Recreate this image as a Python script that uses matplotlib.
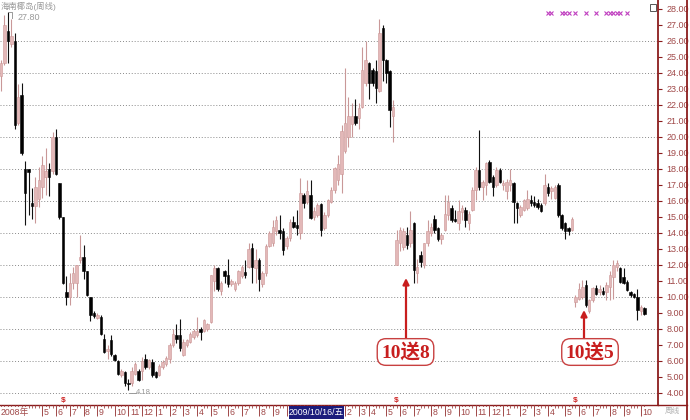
import numpy as np
import matplotlib
matplotlib.use("Agg")
import matplotlib.pyplot as plt
from matplotlib.lines import Line2D
from matplotlib.patches import Rectangle

plt.rcParams['font.family'] = ['Liberation Sans', 'Noto Sans CJK SC', 'DejaVu Sans']

# ---------------- data (weekly OHLC) ----------------
opens = [23.8, 24.6, 26.6, 25.8, 26.0, 20.85, 22.6, 18.0, 18.0, 15.9,
         15.7, 16.1, 16.9, 17.5, 18.0, 17.9, 20.0, 17.1, 15.0, 10.3,
         10.0, 10.9, 10.85, 12.3, 12.5, 11.6, 10.0, 9.0, 8.7, 8.75,
         7.4, 6.6, 7.3, 6.35, 6.0, 5.1, 5.3, 4.6, 4.6, 5.2,
         5.4, 5.4, 6.1, 5.6, 5.95, 5.3, 5.1, 5.6, 5.8, 6.1,
         7.0, 7.65, 7.6, 6.4, 7.0, 7.2, 7.5, 7.6, 8.0, 7.9,
         8.0, 8.45, 11.0, 11.8, 10.4, 11.6, 11.4, 10.8, 10.5, 10.9,
         11.3, 11.55, 11.9, 13.05, 11.8, 12.3, 10.8, 11.5, 13.2, 13.4,
         14.1, 14.2, 14.1, 13.2, 13.7, 14.7, 14.5, 14.0, 16.4, 15.95,
         16.4, 15.0, 15.1, 15.8, 14.3, 15.1, 15.95, 16.7, 17.3, 17.7,
         19.1, 20.0, 20.8, 21.3, 21.2, 21.9, 23.4, 24.6, 24.2, 24.1,
         22.9, 26.8, 24.8, 24.1, 21.3, 12.0, 13.35, 13.1, 13.9, 13.35,
         14.6, 11.5, 12.6, 12.0, 13.35, 14.0, 14.9, 14.3, 13.6, 14.2,
         15.1, 15.55, 14.85, 14.6, 15.3, 15.45, 14.6, 15.45, 16.7, 17.95,
         16.9, 17.0, 18.45, 17.5, 17.0, 17.95, 17.0, 16.6, 17.0, 17.1,
         15.85, 15.1, 15.45, 15.55, 16.05, 15.95, 15.85, 15.75, 15.85, 16.9,
         16.6, 16.2, 17.0, 15.1, 14.6, 14.3, 14.2, 9.7, 9.9, 10.0,
         10.75, 9.1, 9.8, 10.55, 10.3, 10.4, 10.3, 10.65, 11.25, 11.9,
         11.8, 11.25, 10.95, 10.3, 10.2, 10.0, 9.1, 9.3]
highs = [24.8, 27.6, 27.8, 27.4, 26.5, 23.3, 23.4, 18.5, 18.0, 16.8,
         17.5, 18.1, 18.8, 19.3, 18.35, 20.3, 20.5, 17.1, 15.0, 11.3,
         11.5, 11.9, 12.0, 13.9, 13.25, 11.6, 10.0, 9.1, 9.0, 8.85,
         7.7, 7.0, 7.6, 6.45, 6.05, 5.5, 5.35, 4.85, 5.6, 5.95,
         5.5, 6.25, 6.45, 6.15, 6.1, 5.35, 5.8, 6.05, 6.3, 7.1,
         8.0, 8.3, 8.65, 7.4, 7.4, 7.8, 8.0, 8.75, 8.1, 8.6,
         8.4, 11.4, 12.0, 11.9, 11.0, 11.7, 12.4, 11.1, 11.0, 11.7,
         12.0, 12.3, 13.4, 13.4, 13.0, 12.45, 11.6, 13.3, 14.1, 14.8,
         15.05, 15.15, 14.3, 13.8, 14.85, 15.05, 15.45, 17.45, 16.5, 17.3,
         17.3, 15.6, 15.85, 15.9, 15.3, 16.1, 16.9, 18.15, 18.9, 20.75,
         24.3, 22.5, 22.1, 22.4, 22.1, 25.6, 26.0, 24.7, 24.3, 24.8,
         27.4, 27.0, 24.9, 24.2, 22.3, 14.2, 14.4, 14.3, 14.4, 15.35,
         14.7, 12.4, 12.85, 13.4, 14.8, 14.6, 15.1, 14.4, 14.0, 16.4,
         16.4, 15.75, 15.45, 16.05, 15.75, 15.6, 15.4, 16.9, 18.15, 20.45,
         17.3, 18.45, 18.55, 17.6, 18.15, 18.05, 17.3, 17.4, 18.0, 17.2,
         15.95, 15.75, 16.15, 16.7, 16.4, 16.3, 16.1, 15.85, 17.7, 17.1,
         16.95, 17.0, 17.1, 15.2, 14.7, 14.4, 15.0, 10.1, 10.85, 11.05,
         11.05, 9.9, 10.65, 10.75, 10.75, 10.6, 10.95, 11.6, 12.3, 12.3,
         11.9, 11.8, 11.05, 10.4, 10.25, 10.5, 9.5, 9.4]
lows = [22.9, 24.5, 24.6, 25.6, 20.5, 20.75, 18.9, 14.5, 15.1, 14.9,
        14.6, 15.6, 16.2, 16.4, 16.3, 17.7, 17.6, 14.9, 10.8, 9.5,
        9.5, 10.5, 10.0, 12.1, 11.1, 10.05, 8.5, 8.7, 8.6, 7.6,
        6.5, 6.1, 6.3, 6.0, 5.1, 5.0, 4.45, 4.18, 4.45, 5.1,
        4.75, 4.8, 5.5, 5.5, 5.0, 4.95, 5.05, 5.5, 5.7, 5.9,
        6.9, 7.1, 6.65, 6.3, 6.9, 7.1, 7.4, 7.5, 7.3, 7.8,
        7.9, 8.4, 10.4, 10.4, 10.15, 10.9, 10.65, 10.7, 10.4, 10.75,
        11.2, 11.2, 11.8, 10.9, 10.9, 10.35, 10.6, 11.3, 13.1, 13.2,
        13.9, 13.6, 12.65, 13.0, 13.5, 14.3, 13.9, 13.6, 15.55, 15.8,
        14.85, 14.8, 15.0, 13.8, 14.2, 15.0, 15.9, 16.5, 17.0, 16.5,
        19.0, 19.4, 20.0, 20.75, 20.5, 21.8, 23.2, 22.4, 23.2, 22.1,
        22.8, 23.5, 23.35, 20.6, 19.7, 12.0, 12.85, 12.95, 13.0, 13.15,
        10.85, 10.9, 11.9, 11.8, 13.2, 13.8, 14.0, 13.5, 13.3, 14.1,
        14.8, 14.7, 14.7, 14.2, 14.8, 14.4, 14.2, 15.4, 16.05, 16.7,
        16.05, 16.4, 17.1, 16.3, 16.9, 17.1, 16.7, 16.15, 16.6, 14.6,
        14.6, 15.0, 15.35, 15.45, 15.7, 15.6, 15.5, 15.3, 15.75, 16.3,
        16.1, 16.1, 15.0, 14.2, 13.65, 13.9, 14.1, 9.4, 9.8, 9.9,
        9.4, 9.0, 9.7, 10.1, 10.1, 10.1, 9.8, 9.8, 9.9, 11.6,
        10.9, 10.8, 10.35, 10.0, 9.95, 8.55, 8.9, 8.9]
closes = [24.6, 27.0, 26.0, 26.3, 20.75, 22.5, 19.0, 16.5, 17.8, 15.7,
          16.9, 17.3, 18.25, 17.9, 17.5, 20.0, 17.7, 15.0, 10.9, 10.0,
          10.85, 11.5, 12.0, 12.5, 11.6, 10.1, 8.9, 8.8, 8.9, 7.7,
          6.55, 6.75, 6.45, 6.05, 5.2, 5.4, 4.6, 4.55, 5.4, 5.8,
          4.8, 6.0, 5.6, 6.05, 5.1, 5.0, 5.7, 5.95, 6.2, 7.0,
          7.7, 7.4, 6.8, 7.2, 7.3, 7.7, 7.85, 7.9, 7.8, 8.55,
          8.3, 11.4, 11.8, 10.5, 10.9, 11.3, 10.8, 11.0, 10.9, 11.6,
          11.9, 11.4, 13.0, 11.9, 12.3, 11.1, 11.5, 13.2, 14.0, 14.4,
          14.8, 14.0, 12.95, 13.7, 14.7, 14.4, 14.3, 16.5, 15.9, 16.6,
          14.95, 15.4, 15.75, 14.2, 15.1, 16.05, 16.7, 18.05, 18.3, 20.4,
          20.9, 21.3, 21.3, 20.9, 21.8, 24.2, 24.8, 23.35, 23.4, 23.05,
          26.5, 24.8, 24.0, 21.7, 21.9, 13.55, 14.2, 14.1, 13.25, 14.2,
          11.7, 11.9, 12.2, 13.35, 14.1, 14.4, 14.2, 13.6, 13.9, 15.2,
          15.95, 14.8, 14.75, 15.35, 15.55, 14.8, 15.2, 16.7, 17.95, 16.9,
          17.2, 18.35, 17.2, 16.9, 17.95, 17.2, 17.1, 17.2, 17.3, 15.95,
          15.55, 15.65, 16.05, 16.15, 15.85, 15.75, 15.65, 15.35, 17.0, 16.5,
          16.8, 16.9, 15.1, 14.3, 14.1, 14.1, 14.9, 10.0, 10.5, 10.6,
          9.5, 9.8, 10.55, 10.2, 10.5, 10.2, 10.75, 11.4, 12.0, 12.1,
          10.95, 10.85, 10.45, 10.1, 10.0, 9.2, 9.4, 8.95]

month_idx = [12, 16, 20, 24, 28, 33, 37, 41,
             45, 49, 53, 57, 61, 66, 70, 75, 79, 83, 88, 92,
             96, 100, 104, 107, 112, 116, 120, 125, 129, 133, 138, 142,
             146, 151, 155, 159, 164, 168, 172, 177, 181, 186]
month_lab = ['5', '6', '7', '8', '9', '10', '11', '12',
             '1', '2', '3', '4', '5', '6', '7', '8', '9', '10', '11', '12',
             '1', '2', '3', '4', '5', '6', '7', '8', '9', '10', '11', '12',
             '1', '2', '3', '4', '5', '6', '7', '8', '9', '10']
dividend_idx = [18, 115, 167]
info_idx = [159, 160, 163, 164, 165, 167, 170, 173, 176, 177, 178, 179, 180, 182]
y_ticks = list(range(4, 29))
grid_levels = list(range(4, 27, 2))
title = '海南椰岛(周线)'
high_label = '27.80'
low_label = '4.18'
ann1 = '10送8'
ann2 = '10送5'
cursor_label = '2009/10/16/五'
cursor_span = (83.8, 99.6)

# ---------------- figure ----------------
W, H = 690, 420
fig = plt.figure(figsize=(6.9, 4.2), dpi=100, facecolor='white')


def fx(px):
    return px / W


def fy(py):
    return 1 - py / H


RED = '#8b1c1c'
LBL = '#a04848'

ax = fig.add_axes([0, fy(405), fx(658), 405 / H])
ax.set_xlim(-0.29, 190.99)
ax.set_ylim(3.25, 28.5625)
ax.set_facecolor('white')

for g in grid_levels:
    ax.axhline(g, color='#8a8a8a', lw=0.7, ls=(0, (1, 2)), zorder=0)

o = np.array(opens); h = np.array(highs); l = np.array(lows); c = np.array(closes)
idx = np.arange(len(o))
up = c >= o
dn = ~up
ax.vlines(idx[up], l[up], h[up], color='#c99898', lw=0.8, zorder=2)
ax.vlines(idx[dn], l[dn], h[dn], color='#111111', lw=0.8, zorder=2)
bottom = np.minimum(o, c)
height = np.maximum(np.abs(c - o), 0.07)
ax.bar(idx[up], height[up], bottom=bottom[up], width=0.72, color='#e3b8b8',
       edgecolor='#cc9696', linewidth=0.4, zorder=3)
ax.bar(idx[dn], height[dn], bottom=bottom[dn], width=0.72, color='#000000',
       edgecolor='#000000', linewidth=0.4, zorder=3)

ax.yaxis.tick_right()
ax.set_yticks(y_ticks)
ax.set_yticklabels([f'{v:.2f}' for v in y_ticks])
ax.tick_params(axis='y', direction='out', length=3, width=0.8, color=RED,
               labelsize=6.5, labelcolor=LBL, pad=3)
ax.set_xticks([])
for s in ['left', 'top']:
    ax.spines[s].set_visible(False)
ax.spines['right'].set_color(RED)
ax.spines['right'].set_linewidth(1.3)
ax.spines['bottom'].set_color(RED)
ax.spines['bottom'].set_linewidth(1.0)

# purple info markers
ax.plot(info_idx, [27.78] * len(info_idx), 'x', color='#c040c0', ms=2.6, mew=0.8,
        zorder=4)
# dividend markers
for d in dividend_idx:
    ax.text(d, 3.3, '$', color='#cc2020', fontsize=6, ha='center', va='bottom',
            fontweight='bold')

# high / low labels
hi_i = int(np.argmax(h))
lo_i = int(np.argmin(l))
ax.plot([hi_i + 0.3, hi_i + 1.2, hi_i + 1.2], [h[hi_i], h[hi_i], h[hi_i] - 0.35],
        color='#9a9a9a', lw=0.7)
ax.text(hi_i + 2.9, h[hi_i] - 0.3, high_label, color='#9a9a9a', fontsize=6.5,
        va='center', ha='left')
ax.plot([lo_i + 0.3, lo_i + 2.2], [l[lo_i] - 0.15] * 2, color='#9a9a9a', lw=0.7)
ax.text(lo_i + 2.3, l[lo_i] - 0.15, low_label, color='#9a9a9a', fontsize=5.5,
        va='center', ha='left')

# ---------------- bottom date strip ----------------
axb = fig.add_axes([0, 0, fx(658), 15 / H])
axb.set_xlim(-0.29, 190.99)
axb.set_ylim(0, 1)
axb.axis('off')
axb.vlines(idx, 0.78, 1.0, color=LBL, lw=0.6)
axb.vlines(month_idx, 0.25, 1.0, color=LBL, lw=0.7)
for mi, ml in zip(month_idx, month_lab):
    if cursor_span[0] - 2.5 <= mi <= cursor_span[1]:
        continue  # hidden under the cursor date box
    axb.text(mi + 0.45, 0.52, ml, fontsize=6.3, color=LBL, va='center', ha='left',
             bbox=dict(fc='white', ec='none', pad=0.2))
axb.text(-0.1, 0.52, '2008年', fontsize=6.3, color=LBL, va='center', ha='left',
         bbox=dict(fc='white', ec='none', pad=0.2))
axb.add_patch(Rectangle((cursor_span[0], 0.06), cursor_span[1] - cursor_span[0], 0.88,
                        fc='#1c1c7c', ec='none', zorder=5))
axb.text(sum(cursor_span) / 2, 0.5, cursor_label, fontsize=6.3, color='white',
         ha='center', va='center', zorder=6)

# right frame
fig.add_artist(Line2D([fx(686.5)] * 2, [0, 1], color=RED, lw=1.3))
fig.add_artist(Line2D([fx(658), fx(686.5)], [fy(405)] * 2, color=RED, lw=1.0))
fig.text(fx(672), fy(411), '周线', fontsize=5.5, color='#b0b0b0', ha='center',
         va='center')
fig.add_artist(Rectangle((fx(650), fy(11)), fx(6), 7 / H, fill=False,
                         ec='#555555', lw=0.7))

# title
fig.text(fx(1), fy(6), title, fontsize=6, color='#999999', va='center', ha='left')

# annotations
ann_font = ['Liberation Serif', 'Noto Sans CJK SC']
for txt, xc, ybox in [(ann1, 405.5, 352), (ann2, 590, 352)]:
    fig.text(fx(xc), fy(ybox), txt, fontsize=14, color='#c81e1e', family=ann_font,
             ha='center', va='center', fontweight='bold',
             bbox=dict(boxstyle='round,pad=0.2,rounding_size=0.45', fc='white',
                       ec='#c84040', lw=1.0))
ax.annotate('', xy=(fx(406), fy(278)), xytext=(fx(406), fy(339)),
            xycoords='figure fraction', textcoords='figure fraction',
            arrowprops=dict(arrowstyle='-|>', color='#c81e1e', lw=1.6,
                            mutation_scale=9, shrinkA=0, shrinkB=0))
ax.annotate('', xy=(fx(584), fy(310)), xytext=(fx(584), fy(339)),
            xycoords='figure fraction', textcoords='figure fraction',
            arrowprops=dict(arrowstyle='-|>', color='#c81e1e', lw=1.6,
                            mutation_scale=9, shrinkA=0, shrinkB=0))

fig.savefig('out.png', dpi=100, facecolor='white')
